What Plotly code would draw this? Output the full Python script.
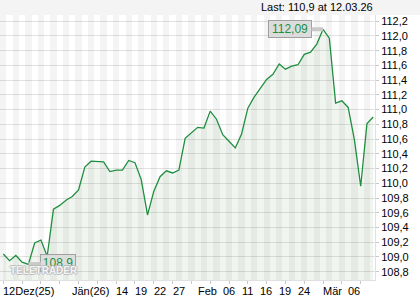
import plotly.graph_objects as go

dates = ["12.12.25", "15.12.25", "16.12.25", "17.12.25", "18.12.25", "19.12.25", "22.12.25", "23.12.25",
         "29.12.25", "30.12.25", "02.01.26", "05.01.26", "06.01.26", "07.01.26", "08.01.26", "09.01.26",
         "12.01.26", "13.01.26", "14.01.26", "15.01.26", "16.01.26", "19.01.26", "20.01.26", "21.01.26",
         "22.01.26", "23.01.26", "26.01.26", "27.01.26", "28.01.26", "29.01.26", "30.01.26", "02.02.26",
         "03.02.26", "04.02.26", "05.02.26", "06.02.26", "09.02.26", "10.02.26", "11.02.26", "12.02.26",
         "13.02.26", "16.02.26", "17.02.26", "18.02.26", "19.02.26", "20.02.26", "23.02.26", "24.02.26",
         "25.02.26", "26.02.26", "27.02.26", "02.03.26", "03.03.26", "04.03.26", "05.03.26", "06.03.26",
         "09.03.26", "10.03.26", "11.03.26", "12.03.26"]

values = [109.04, 108.95, 109.02, 108.93, 108.90, 109.19, 109.23, 109.01,
          109.65, 109.70, 109.77, 109.82, 109.91, 110.22, 110.30, 110.29,
          110.29, 110.16, 110.18, 110.18, 110.31, 110.28, 110.05, 109.57,
          109.89, 110.09, 110.17, 110.14, 110.18, 110.61, 110.69, 110.76,
          110.75, 110.98, 110.87, 110.66, 110.57, 110.48, 110.67, 111.02,
          111.17, 111.29, 111.41, 111.48, 111.62, 111.55, 111.59, 111.61,
          111.75, 111.78, 111.89, 112.09, 111.97, 111.09, 111.12, 111.03,
          110.59, 109.96, 110.81, 110.90]

tick_dates = ["12.12.25", "05.01.26", "14.01.26", "19.01.26", "22.01.26", "27.01.26", "02.02.26",
              "06.02.26", "11.02.26", "16.02.26", "19.02.26", "24.02.26", "02.03.26", "06.03.26"]
tick_text = ["12Dez(25)", "Jän(26)", "14", "19", "22", "27", "Feb",
             "06", "11", "16", "19", "24", "Mär", "06"]

y_ticks = [108.8 + 0.2 * k for k in range(18)]
y_text = [f"{v:.1f}".replace(".", ",") for v in y_ticks]

Y_MIN, Y_MAX = 108.687, 112.285
FONT = "Liberation Sans, Arial, sans-serif"
GREEN = "#1f8f3f"

fig = go.Figure()

# alternating day stripes (translucent so the grid shows through)
stripe_colors = ["rgba(0,0,0,0.045)" if i % 2 == 0 else "rgba(0,0,0,0)" for i in range(len(dates))]
fig.add_trace(go.Bar(x=dates, y=[Y_MAX - Y_MIN] * len(dates), base=Y_MIN, width=1.0,
                     marker=dict(color=stripe_colors, line=dict(width=0)),
                     hoverinfo="skip", showlegend=False))

fig.add_trace(go.Scatter(x=dates, y=values, mode="lines",
                         line=dict(color=GREEN, width=1.3),
                         fill="tozeroy", fillcolor="rgba(40,120,40,0.07)",
                         showlegend=False))

imax = values.index(max(values))
imin = values.index(min(values))

def fmt(v, d):
    return f"{v:.{d}f}".replace(".", ",")

fig.add_annotation(x=dates[imax], y=values[imax], text=fmt(values[imax], 2),
                   showarrow=True, arrowhead=0, arrowwidth=4, arrowcolor="#c9c9c9",
                   ax=-33, ay=0, standoff=0,
                   bgcolor="#dcdcdc", bordercolor="#a0a0a0", borderwidth=1, borderpad=1,
                   font=dict(family=FONT, size=12, color=GREEN), width=40, height=14)
fig.add_annotation(x=dates[imin], y=values[imin], text=fmt(values[imin], 1),
                   showarrow=True, arrowhead=0, arrowwidth=4, arrowcolor="#c9c9c9",
                   ax=30, ay=-1, standoff=0,
                   bgcolor="rgba(220,220,220,0.9)", bordercolor="#a0a0a0", borderwidth=1, borderpad=1,
                   font=dict(family=FONT, size=12, color=GREEN), width=32, height=14)

# watermark
fig.add_annotation(xref="paper", yref="paper", x=0.02, y=0.0, xanchor="left", yanchor="bottom",
                   yshift=2, text="TELETRADER", showarrow=False,
                   font=dict(family=FONT, size=10, color="rgba(255,255,255,0.85)", weight="bold",
                             shadow="-1px 0 #b8b8b8, 1px 0 #b8b8b8, 0 -1px #b8b8b8, 0 1px #b8b8b8"))

# x labels, left-aligned at their day
for d, t in zip(tick_dates, tick_text):
    fig.add_annotation(x=d, y=0, yref="paper", xanchor="left", yanchor="top", yshift=-3, xshift=-2,
                       text=t, showarrow=False, font=dict(family=FONT, size=11, color="#000000"))

last_text = f"Last: {fmt(values[-1], 1)} at {dates[-1]}"
fig.add_shape(type="rect", xref="paper", yref="paper", x0=0, x1=420 / 375, y0=1, y1=1 + 15 / 265,
              fillcolor="#f4f4f4", line=dict(width=0), layer="below")
fig.add_annotation(xref="paper", yref="paper", x=1, y=1, xanchor="right", yanchor="bottom",
                   yshift=0, text=last_text, showarrow=False,
                   font=dict(family=FONT, size=11, color="#000000"))

fig.update_layout(
    width=420, height=300,
    margin=dict(l=0, r=45, t=15, b=20),
    paper_bgcolor="#ffffff", plot_bgcolor="#ffffff",
    bargap=0,
    xaxis=dict(type="category", range=[-0.526, 59.28], showgrid=False, zeroline=False,
               ticks="outside", ticklen=3, tickcolor="#c8c8c8", showticklabels=False,
               showline=True, linecolor="#e0e0e0", fixedrange=True),
    yaxis=dict(side="right", range=[Y_MIN, Y_MAX], tickvals=y_ticks, ticktext=y_text,
               showgrid=True, gridcolor="#e2e2e2", gridwidth=1, zeroline=False,
               ticks="outside", ticklen=3, tickcolor="#c8c8c8",
               showline=True, linecolor="#e0e0e0",
               tickfont=dict(family=FONT, size=11, color="#000000")),
)

fig.write_html("out.html")
